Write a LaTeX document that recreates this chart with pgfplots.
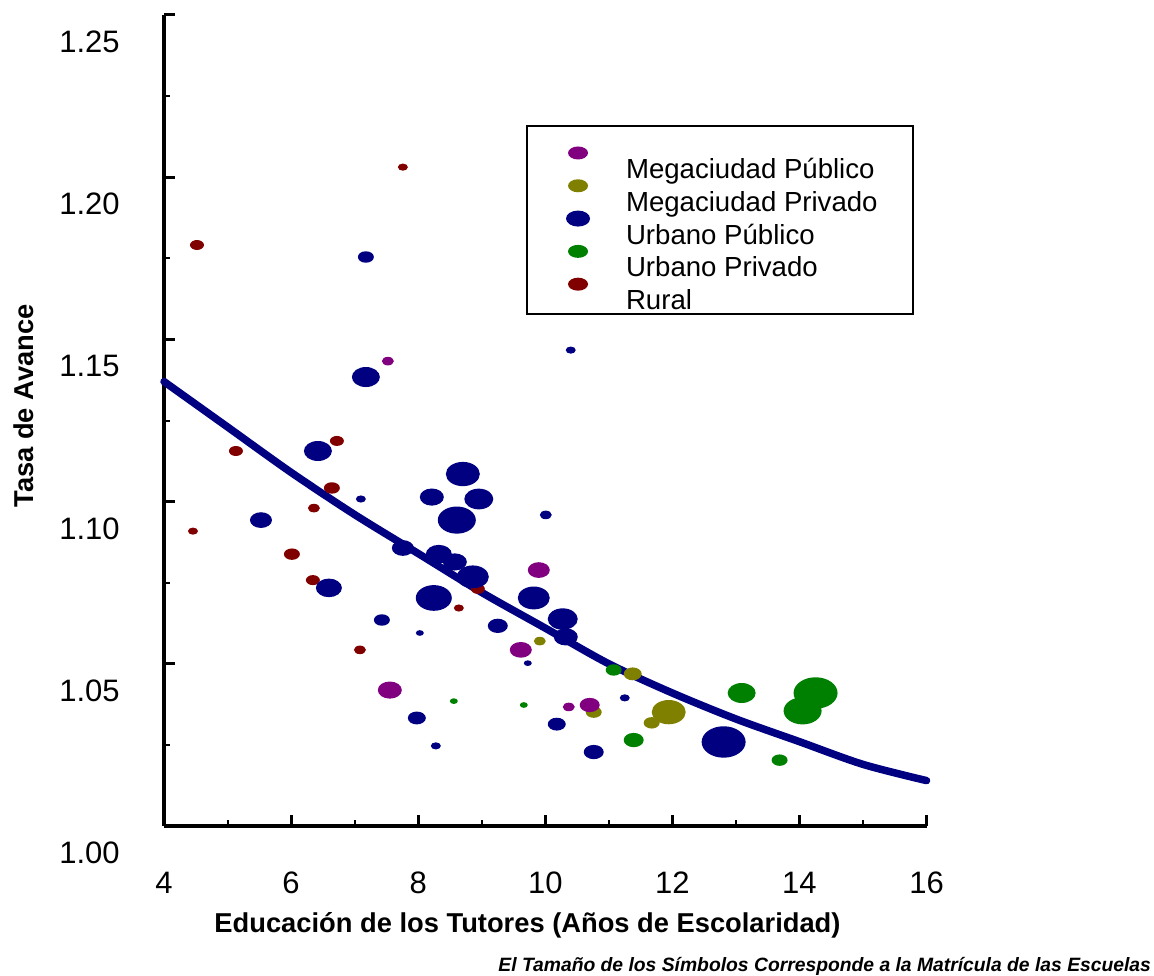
\documentclass[border=0pt]{standalone}
\usepackage{pgfplots}
\pgfplotsset{compat=1.18}
\usepackage{fontspec}
\setmainfont{Liberation Sans}
\definecolor{cNavy}{RGB}{0,0,128}
\definecolor{cPurple}{RGB}{128,0,128}
\definecolor{cOlive}{RGB}{128,128,0}
\definecolor{cGreen}{RGB}{0,128,0}
\definecolor{cRed}{RGB}{128,0,0}
\pgfdeclareplotmark{ell}{\pgfpathellipse{\pgfpointorigin}{\pgfqpoint{1.4\pgfplotmarksize}{0pt}}{\pgfqpoint{0pt}{\pgfplotmarksize}}\pgfusepathqfill}
\pgfplotsset{
  bub/.style={scatter, only marks, mark=ell, forget plot,
    scatter/use mapped color={draw=#1, fill=#1},
    visualization depends on={\thisrow{w}/5.6 \as \ms},
    scatter/@pre marker code/.append style={/tikz/mark size=\ms}},
  lg/.style={legend image code/.code={\path[draw=none, fill=none] (-8pt,-8.95pt) rectangle (8pt,7.45pt); \fill[draw=none, fill=#1] (0,0) ellipse [x radius=5pt, y radius=3.25pt];}},
  lgbig/.style={legend image code/.code={\path[draw=none, fill=none] (-8pt,-8.95pt) rectangle (8pt,7.45pt); \fill[draw=none, fill=#1] (0,0) ellipse [x radius=6pt, y radius=4pt];}},
}
\begin{document}
\begin{tikzpicture}
\useasboundingbox (0,0) rectangle (577pt,487.5pt);
\begin{axis}[
  at={(82pt,74.5pt)}, anchor=south west, scale only axis,
  width=381.25pt, height=405.5pt,
  xmin=4, xmax=16, ymin=1, ymax=1.25,
  clip=false,
  axis x line*=bottom, axis y line*=left,
  axis line style={line width=1.75pt, -},
  xtick={4,6,8,10,12,14,16}, minor xtick={5,7,9,11,13,15},
  ytick={1,1.05,1.1,1.15,1.2,1.25}, minor ytick={1.025,1.075,1.125,1.175,1.225},
  tick align=inside,
  major tick length=5.5pt, minor tick length=3pt,
  every major tick/.style={line width=1.5pt, black},
  every minor tick/.style={line width=1pt, black},
  /pgf/number format/assume math mode=true,
  tick label style={font=\fontsize{15.5}{18}\selectfont},
  xticklabel style={anchor=center, inner sep=0pt, yshift=-28.25pt},
  yticklabel style={anchor=east, inner sep=0pt, xshift=-22pt, yshift=-13.5pt,
    /pgf/number format/.cd, fixed, fixed zerofill, precision=2},
  xlabel={Educación de los Tutores (Años de Escolaridad)},
  ylabel={Tasa de Avance},
  xlabel style={at={(axis description cs:0.4767,-0.1319)}, anchor=base, font=\bfseries\fontsize{13.65}{16}\selectfont},
  ylabel style={at={(axis description cs:-0.1718,0.5179)}, rotate=0, anchor=base, font=\bfseries\fontsize{13.65}{16}\selectfont},
  legend cell align=left,
  legend style={at={(0.4748,0.8644)}, anchor=north west, draw=black, line width=1pt, fill=white,
    inner xsep=17.5pt, inner ysep=6.05pt, row sep=0pt,
    font=\fontsize{13.8}{15}\selectfont, nodes={inner sep=0pt, draw=none},
    /tikz/every odd column/.append style={column sep=16pt}},
]
\addlegendimage{lg=cPurple}
\addlegendentry{\raisebox{-13.5pt}[0pt][0pt]{Megaciudad Público}}
\addlegendimage{lg=cOlive}
\addlegendentry{\raisebox{-13.5pt}[0pt][0pt]{Megaciudad Privado}}
\addlegendimage{lgbig=cNavy}
\addlegendentry{\raisebox{-13.5pt}[0pt][0pt]{Urbano Público}}
\addlegendimage{lg=cGreen}
\addlegendentry{\raisebox{-13.5pt}[0pt][0pt]{Urbano Privado}}
\addlegendimage{lg=cRed}
\addlegendentry{\raisebox{-13.5pt}[0pt][0pt]{Rural}}

% Rural (dark red)
\addplot[bub=cRed] table {
x y w
4.519 1.1791 14
7.759 1.2031 10
5.132 1.1156 14
4.456 1.0909 10
6.721 1.1187 14
6.642 1.1042 16
6.359 1.0980 12
6.013 1.0838 16
6.343 1.0758 14
8.640 1.0672 10
8.939 1.0731 14
7.083 1.0543 12
};
% olive
\addplot[bub=cOlive] table {
x y w
9.914 1.0570 12
10.763 1.0351 16
11.675 1.0318 16
11.943 1.0351 34
11.376 1.0469 18
};
% purple
\addplot[bub=cPurple] table {
x y w
7.523 1.1433 12
9.898 1.0789 22
9.615 1.0543 22
7.554 1.0419 24
10.370 1.0367 12
10.700 1.0373 20
};
% navy
\addplot[bub=cNavy] table {
x y w
7.177 1.1754 16
10.401 1.1467 10
7.177 1.1384 28
6.422 1.1156 28
5.526 1.0943 22
7.098 1.1008 10
8.703 1.1085 34
8.215 1.1014 24
8.954 1.1008 29
8.608 1.0943 38
10.008 1.0959 12
7.759 1.0857 22
8.325 1.0838 26
8.577 1.0814 24
8.860 1.0768 32
6.595 1.0734 26
8.246 1.0703 36
9.819 1.0703 32
7.429 1.0635 16
8.026 1.0595 8
9.253 1.0617 20
10.275 1.0638 30
10.323 1.0583 24
9.725 1.0502 8
10.181 1.0314 18
7.979 1.0333 18
8.278 1.0247 10
10.763 1.0228 20
11.251 1.0395 10
12.807 1.0259 44
};
% green
\addplot[bub=cGreen] table {
x y w
11.077 1.0481 16
13.091 1.0410 28
11.392 1.0265 20
9.662 1.0373 8
8.561 1.0385 8
13.688 1.0203 16
14.050 1.0355 38
14.254 1.0410 44
};
% fitted curve
\addplot[cNavy, line width=3.75pt, smooth, line cap=round, forget plot] coordinates {
(4,1.137) (5,1.123) (6,1.109) (7,1.096) (8,1.084) (9,1.072) (10,1.061)
(11,1.050) (12,1.041) (13,1.033) (14,1.026) (15,1.019) (16,1.014)
};
\node[anchor=base east, font=\bfseries\itshape\fontsize{9.65}{11}\selectfont] at (axis description cs:1.3036,-0.1788)
  {El Tamaño de los Símbolos Corresponde a la Matrícula de las Escuelas};
\end{axis}
\end{tikzpicture}
\end{document}
